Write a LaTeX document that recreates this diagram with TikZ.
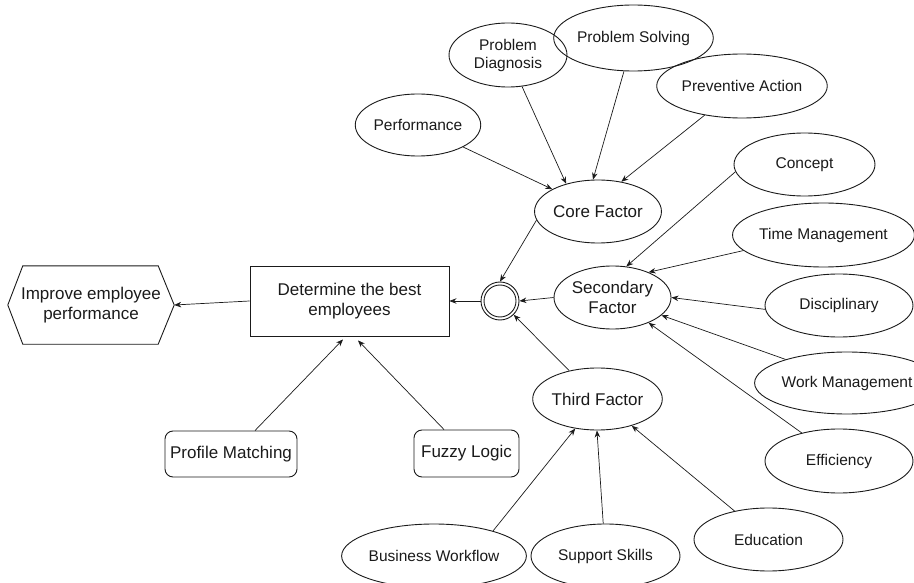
\documentclass[tikz,border=0pt]{standalone}
\usepackage{fontspec}
\setmainfont{Liberation Sans}
\usetikzlibrary{shapes.geometric,arrows.meta,calc}
\definecolor{ink}{HTML}{1A1A1A}
\begin{document}
\begin{tikzpicture}[x=1pt,y=-1pt,
  every node/.style={text=ink},
  big/.style={font=\fontsize{17}{20}\selectfont},
  small/.style={font=\fontsize{15.5}{18}\selectfont},
  ell/.style={ellipse,draw=ink,line width=0.9pt,inner sep=0pt,align=center},
  rbox/.style={rectangle,rounded corners=8pt,draw=ink,line width=0.9pt,inner sep=0pt,align=center},
  conn/.style={draw=ink,line width=0.7pt,-{Stealth[length=7pt,width=5.5pt]}}]
\useasboundingbox (0,0) rectangle (914,583);

% hexagon
\node[big,minimum width=166pt,minimum height=78pt,inner sep=0pt,align=center] (hex) at (91,305) {Improve employee\\performance};
\draw[ink,line width=0.9pt] (hex.west) -- ($(hex.north west)+(15,0)$) -- ($(hex.north east)+(-16,0)$) -- (hex.east) -- ($(hex.south east)+(-16,0)$) -- ($(hex.south west)+(15,0)$) -- cycle;

% main rectangle
\node[big,rectangle,draw=ink,line width=0.9pt,minimum width=199pt,minimum height=70pt,inner sep=0pt,align=center] (rect) at (349.5,301) {Determine the best\\employees};

% method boxes
\node[big,rbox,minimum width=132pt,minimum height=46pt] (pm) at (231,454) {Profile Matching};
\node[big,rbox,minimum width=105pt,minimum height=47pt] (fl) at (466.5,453.5) {Fuzzy Logic};

% junction
\node[circle,draw=ink,line width=0.9pt,minimum size=38pt,inner sep=0pt] (circ) at (500,301) {};
\node[circle,draw=ink,line width=0.9pt,minimum size=32pt,inner sep=0pt] (circin) at (500,301) {};

% factors
\node[big,ell,minimum width=118pt,minimum height=63pt] (core) at (598,211.5) {Core Factor};
\node[big,ell,minimum width=117pt,minimum height=63pt] (sec) at (612.5,297.5) {Secondary\\Factor};
\node[big,ell,minimum width=117pt,minimum height=62pt] (third) at (597.5,399) {Third Factor};

% core children
\node[small,ell,minimum width=118pt,minimum height=62pt] (perf) at (418,125) {Performance};
\node[small,ell,minimum width=118pt,minimum height=64pt] (diag) at (508,55) {Problem\\Diagnosis};
\node[small,ell,minimum width=127pt,minimum height=66pt] (solv) at (633.5,38) {Problem Solving};
\node[small,ell,minimum width=142pt,minimum height=64pt] (prev) at (742,86) {Preventive Action};

% secondary children
\node[small,ell,minimum width=141pt,minimum height=63pt] (conc) at (804.5,164.5) {Concept};
\node[small,ell,minimum width=149pt,minimum height=64pt] (time) at (823.5,235) {Time Management};
\node[small,ell,minimum width=148pt,minimum height=63pt] (disc) at (839,305.5) {Disciplinary};
\node[small,ell,minimum width=148pt,minimum height=62pt] (work) at (847,383) {Work Management};
\node[small,ell,minimum width=148pt,minimum height=64pt] (eff) at (839,461) {Efficiency};

% third children
\node[small,ell,minimum width=150pt,minimum height=64pt] (bw) at (434,556) {Business Workflow};
\node[small,ell,minimum width=149pt,minimum height=64pt] (ss) at (605.5,556) {Support Skills};
\node[small,ell,minimum width=149pt,minimum height=63pt] (edu) at (768.5,539.5) {Education};

% connectors
\draw[conn] (rect.west) -- (hex.east);
\draw[conn] (circ.west) -- (rect.east);
\draw[conn] ($(pm.north)+(24,0)$) -- ($(rect.south)+(-6.5,3)$);
\draw[conn] ($(fl.north)+(-22.5,0)$) -- ($(rect.south)+(8.5,4)$);

\draw[conn] (core.188) -- (circ.north);
\draw[conn] (sec.west) -- (circ.east);
\draw[conn] (third.135) -- (circ);

\draw[conn] (perf.-26) -- (core.154.5);
\draw[conn] (diag.-66) -- (core.139);
\draw[conn] (solv.-106.5) -- (core.99);
\draw[conn] (prev.-142) -- (core.52);

\draw[conn] (conc.186) -- (sec.66);
\draw[conn] (time.191.7) -- (sec.35);
\draw[conn] (disc.183) -- (sec.east);
\draw[conn] (work.159.4) -- (sec.-20.5);
\draw[conn] (eff.143.9) -- (sec.-35.7);

\draw[conn] (bw.23.5) -- (third.-127);
\draw[conn] (ss.94.5) -- (third.-91);
\draw[conn] (edu.140.4) -- (third.-38.9);
\end{tikzpicture}
\end{document}
